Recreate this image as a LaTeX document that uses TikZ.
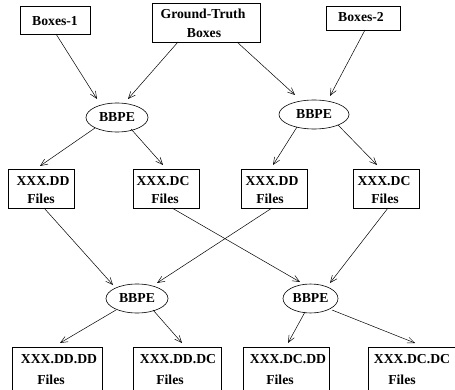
\documentclass[tikz,border=0pt]{standalone}
\usepackage{fontspec}
\setmainfont{Liberation Serif}
\usetikzlibrary{arrows.meta,shapes.geometric,calc}
\begin{document}
\begin{tikzpicture}[x=1pt,y=1pt,
  every node/.style={inner sep=0pt,outer sep=0pt},
  boxnode/.style={draw,line width=0.6pt,rectangle},
  ovalnode/.style={draw,line width=0.6pt,ellipse,minimum height=29pt,font=\fontsize{13.7}{16}\bfseries\selectfont},
  lbl/.style={font=\fontsize{13.7}{16}\bfseries\selectfont},
  conn/.style={line width=0.5pt,-{Straight Barb[length=7pt,width=6pt,line width=0.5pt]}}]
\useasboundingbox (0,0) rectangle (455,-390);
\clip (0,0) rectangle (455,-390);
% top boxes
\node[boxnode,minimum width=70pt,minimum height=28pt] (t1) at (55,-20) {};
\node[boxnode,minimum width=108pt,minimum height=39pt] (t2) at (206,-22.5) {};
\node[boxnode,minimum width=74pt,minimum height=24pt] (t3) at (363,-18) {};
\node[lbl] (t1a) at (55,-21.5) {Boxes-1};
\node[lbl] (t2a) at (203,-13.5) {Ground-Truth};
\node[lbl] (t2b) at (204,-33.5) {Boxes};
\node[lbl] (t3a) at (361,-17.5) {Boxes-2};
% ellipses
\node[ovalnode,minimum width=62pt] (e1) at (117,-117.5) {BBPE};
\node[ovalnode,minimum width=70pt] (e2) at (314,-114.5) {BBPE};
\node[ovalnode,minimum width=62pt] (e3) at (137,-298.5) {BBPE};
\node[ovalnode,minimum width=55pt] (e4) at (310.5,-298.5) {BBPE};
% middle boxes
\node[boxnode,minimum width=66pt,minimum height=39pt] (m1) at (41,-188.5) {};
\node[boxnode,minimum width=66pt,minimum height=39pt] (m2) at (166,-188.5) {};
\node[boxnode,minimum width=66pt,minimum height=39pt] (m3) at (274,-188.5) {};
\node[boxnode,minimum width=66pt,minimum height=39pt] (m4) at (386,-188.5) {};
\node[lbl] (m1a) at (43,-181) {XXX.DD};
\node[lbl] (m1b) at (41,-199) {Files};
\node[lbl] (m2a) at (163,-181) {XXX.DC};
\node[lbl] (m2b) at (165,-199) {Files};
\node[lbl] (m3a) at (272,-181) {XXX.DD};
\node[lbl] (m3b) at (270,-199) {Files};
\node[lbl] (m4a) at (384,-181) {XXX.DC};
\node[lbl] (m4b) at (385,-199) {Files};
% bottom boxes
\node[boxnode,minimum width=90pt,minimum height=46pt] (b1) at (57,-370) {};
\node[boxnode,minimum width=88pt,minimum height=46pt] (b2) at (177,-370) {};
\node[boxnode,minimum width=86pt,minimum height=46pt] (b3) at (286,-370) {};
\node[boxnode,minimum width=88pt,minimum height=46pt] (b4) at (412,-370) {};
\node[lbl] (b1a) at (59,-359.5) {XXX.DD.DD};
\node[lbl] (b1b) at (51,-379.5) {Files};
\node[lbl] (b2a) at (178,-359.5) {XXX.DD.DC};
\node[lbl] (b2b) at (170,-379.5) {Files};
\node[lbl] (b3a) at (288,-359.5) {XXX.DC.DD};
\node[lbl] (b3b) at (280,-379.5) {Files};
\node[lbl] (b4a) at (412,-359.5) {XXX.DC.DC};
\node[lbl] (b4b) at (402,-379.5) {Files};
% connectors
\draw[conn] ([xshift=1pt]t1.south) -- ($(e1)+(-20,18.5)$);
\draw[conn] ([xshift=-28pt]t2.south) -- ($(e1)+(11,18.5)$);
\draw[conn] ([xshift=31pt]t2.south) -- ($(e2)+(-19,19.5)$);
\draw[conn] ([xshift=2pt]t3.south) -- ($(e2)+(16,18.5)$);
\draw[conn] ($(e1)+(-22,-10.5)$) -- ([shift={(-1pt,3pt)}]m1.north);
\draw[conn] ($(e1)+(14,-11.5)$) -- ([shift={(-3pt,4pt)}]m2.north);
\draw[conn] ($(e2)+(-17,-12.5)$) -- ([shift={(-1pt,4pt)}]m3.north);
\draw[conn] ($(e2)+(24,-10.5)$) -- ([shift={(-9pt,4pt)}]m4.north);
\draw[conn] ([xshift=3pt]m1.south) -- ($(e3)+(-24,13.5)$);
\draw[conn] ([xshift=6pt]m2.south) -- ($(e4)+(-10.5,16.5)$);
\draw[conn] ([xshift=-2pt]m3.south) -- ($(e3)+(20,15.5)$);
\draw[conn] ([xshift=2pt]m4.south) -- ($(e4)+(19.5,15.5)$);
\draw[conn] ($(e3)+(-21,-11.5)$) -- ([shift={(3pt,4pt)}]b1.north);
\draw[conn] ($(e3)+(16,-11.5)$) -- ([shift={(5pt,4pt)}]b2.north);
\draw[conn] ($(e4)+(-5.5,-13.5)$) -- ([shift={(2pt,4pt)}]b3.north);
\draw[conn] ($(e4)+(21.5,-11.5)$) -- ([shift={(3pt,4pt)}]b4.north);
\end{tikzpicture}
\end{document}
